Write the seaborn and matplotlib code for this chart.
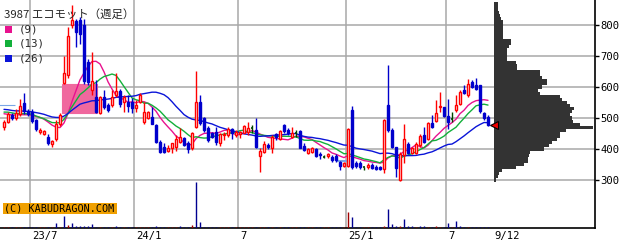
import numpy as np
import pandas as pd
import matplotlib
matplotlib.use("Agg")
import matplotlib.pyplot as plt
import seaborn as sns
from matplotlib.patches import Rectangle

# ---------------- data ----------------
title = "3987 エコモット（週足）"
first_week = "2023-05-19"
tick_dates = ["2023-07-07", "2024-01-05", "2024-07-05", "2025-01-10", "2025-07-04"]
tick_labels = ["23/7", "24/1", "7", "25/1", "7"]
price_ticks = [300, 400, 500, 600, 700, 800]

opens = [470,488,510,500,512,548,522,520,492,455,
         450,440,415,432,480,612,640,800,812,815,
         800,680,590,568,516,568,542,542,574,587,
         552,552,552,532,552,487,500,503,477,423,
         407,394,403,407,423,435,419,403,472,552,
         500,468,452,456,420,445,445,463,445,448,
         453,455,467,461,378,391,413,402,448,431,
         477,461,440,451,458,411,388,391,399,385,
         375,376,375,377,357,346,346,526,354,356,
         341,341,350,343,342,334,542,461,405,300,
         381,416,388,388,413,445,431,483,491,534,
         534,506,496,526,545,590,574,617,606,606,
         517,502]
highs = [494,520,515,530,560,580,528,530,498,468,
         462,448,430,495,516,700,795,865,818,825,
         820,690,712,623,572,590,548,590,645,595,
         574,574,563,558,580,552,522,537,481,428,
         418,414,419,445,468,440,425,454,652,574,
         502,474,456,472,453,455,472,467,461,459,
         477,488,477,499,402,425,420,445,452,461,
         480,467,470,461,461,418,402,405,402,391,
         380,386,381,384,362,357,467,539,362,362,
         341,354,354,348,345,496,671,467,408,390,
         480,424,408,424,448,472,488,510,558,585,
         537,560,520,574,590,606,625,623,628,606,
         520,510]
lows = [462,483,495,495,505,512,505,485,458,450,
        445,413,408,425,475,610,630,790,730,740,
        610,605,575,516,512,530,520,536,568,535,
        520,520,516,520,548,482,497,480,418,388,
        388,391,388,395,418,410,386,398,468,478,
        456,424,434,413,410,430,440,431,440,434,
        451,445,451,402,327,386,399,388,429,429,
        453,445,437,440,402,392,385,388,373,367,
        370,370,359,359,333,343,343,335,338,337,
        332,337,334,332,332,322,456,402,311,298,
        354,384,384,384,408,418,429,467,488,520,
        504,463,488,520,542,577,569,596,590,515,
        494,474]
closes = [488,512,500,515,540,522,512,490,465,462,
          458,420,425,480,510,645,765,815,778,770,
          620,615,620,519,568,535,526,568,587,545,
          568,539,532,542,574,519,519,481,423,390,
          390,403,419,432,439,413,400,452,552,485,
          460,430,440,424,448,450,463,453,456,455,
          474,469,467,405,392,416,405,440,440,458,
          458,452,453,451,404,397,399,402,377,382,
          375,384,365,365,346,354,463,343,345,341,
          341,348,340,335,335,494,461,408,338,384,
          431,388,402,416,442,424,483,472,515,539,
          506,488,496,542,585,582,610,601,592,524,
          499,478]
# closes of the weeks before the first visible week (for the moving averages)
warmup_closes = [545,560,550,540,548,535,520,530,525,540,538,526,520,
                 515,530,545,535,528,520,515,530,525,512,505,500]
# weekly volume (thousand shares)
volume = [20,20,20,20,20,20,20,20,20,20,
          20,20,20,100,20,240,60,100,40,40,
          40,40,80,20,20,20,20,20,40,20,
          20,20,20,20,20,20,20,20,40,20,
          20,20,20,20,40,20,20,60,920,120,
          20,20,20,20,20,20,20,20,20,20,
          20,20,20,20,20,20,20,20,20,20,
          20,20,20,20,20,20,20,20,20,20,
          20,20,20,20,20,20,320,220,20,20,
          20,20,20,20,20,40,380,80,40,40,
          180,40,40,20,40,40,20,20,40,20,
          20,100,20,140,40,20,20,20,20,20,
          20,20]
# weeks whose (non-trivial) volume bar is drawn in red
volume_red_weeks = [16, 47, 86, 95, 99, 108]
ma_periods = [9, 13, 26]
# price gaps (windows): first week, filling week, low, high, direction
gaps = [(15, 23, 516, 610, "up"),
        (-1.5, 2.5, 541, 543, "down"),
        (63.6, 64.4, 402, 404, "down"),
        (83.6, 85.6, 362, 364, "down")]
# volume-by-price profile: bin lower edge (yen), relative volume
profile_price = list(range(295, 866, 10))
profile_vol = [2,4,5,8,22,30,34,34,35,36,
               50,55,58,63,66,66,72,99,86,79,
               78,76,78,80,76,73,68,66,46,44,
               48,53,53,48,46,46,23,23,22,13,
               13,13,13,15,17,17,9,9,9,9,
               9,9,7,6,5,4,4,4]

# ---------------- styling ----------------
sns.set_style("white")
plt.rcParams["font.family"] = ["DejaVu Sans Mono"]
UP, DOWN, DOJI = "#ff0000", "#0000cc", "#004400"
VUP, VDOWN = "#a00000", "#000090"
MA_COLORS = {9: "#e8128e", 13: "#12b03a", 26: "#0a14d8"}
GRID = "#a8a8a8"

W, H = 640, 241
fig = plt.figure(figsize=(W / 100, H / 100), dpi=100)
fig.patch.set_facecolor("white")
ax = fig.add_axes([0, 13 / H, 595 / W, 228 / H])
ax.set_xlim(-1, 147.75)
ax.set_ylim(145.2, 880.6)

n = len(closes)
idx = np.arange(n)
o, h, l, c = map(np.array, (opens, highs, lows, closes))
dates = pd.date_range(first_week, periods=n, freq="W-FRI")

# grid
for p in price_ticks:
    ax.axhline(p, color=GRID, lw=1.1, zorder=0)
tick_idx = [dates.get_loc(pd.Timestamp(d)) for d in tick_dates]
for t in tick_idx:
    ax.axvline(t - 0.4, color=GRID, lw=1.1, zorder=0)

# gaps
for g0, g1, glo, ghi, kind in gaps:
    col = "#f0689e" if kind == "up" else "#7aa6e6"
    ax.add_patch(Rectangle((g0 - 0.4, glo), (g1 - g0) + 0.75, ghi - glo,
                           facecolor=col, edgecolor=col, lw=0.8, zorder=1))

# moving averages
allc = pd.Series(warmup_closes + closes, dtype=float)
for p in ma_periods:
    ma = allc.rolling(p).mean().to_numpy()[-n:]
    sns.lineplot(x=idx, y=ma, ax=ax, color=MA_COLORS[p], lw=1.0,
                 legend=False, zorder=2)

# candles
up = c > o
down = c < o
doji = c == o
wick_col = np.where(up, UP, np.where(down, DOWN, DOJI))
ax.vlines(idx, l, h, colors=wick_col, lw=1.0, zorder=3)
bw = 0.7
ax.bar(idx[up], (c - o)[up], bottom=o[up], width=bw, facecolor="white",
       edgecolor=UP, lw=1.0, zorder=4)
ax.bar(idx[down], (o - c)[down], bottom=c[down], width=bw, facecolor=DOWN,
       edgecolor=DOWN, lw=1.0, zorder=4)
ax.hlines(c[doji], idx[doji] - bw / 2, idx[doji] + bw / 2, colors=DOJI,
          lw=1.2, zorder=4)

# volume profile
prof_left = n + 0.5
ax.barh(profile_price, np.array(profile_vol) * 0.25, height=10,
        left=prof_left, align="edge", color="#333333", lw=0, zorder=2)
ax.plot([prof_left], [closes[-1]], marker="<", ms=6, mfc="#ee0000",
        mec="black", mew=0.8, zorder=6)

# volume bars (twin axis)
ax2 = ax.twinx()
ax2.set_ylim(0, 228 * 20)
vol = np.array(volume)
vcol = np.where(c >= o, VUP, VDOWN).astype(object)
vcol[vol > 20] = VDOWN
vcol[volume_red_weeks] = VUP
ax2.vlines(idx, 0, vol, colors=list(vcol), lw=1.0)
ax2.set_yticks([])
for s in ax2.spines.values():
    s.set_visible(False)
ax2.set_xlim(ax.get_xlim())

# axes / ticks (after twinx, which moves ticks to the left)
for s in ("left", "top"):
    ax.spines[s].set_visible(False)
for s in ("right", "bottom"):
    ax.spines[s].set_color("black")
    ax.spines[s].set_linewidth(1.2)
ax.yaxis.tick_right()
ax.yaxis.set_label_position("right")
ax.set_yticks(price_ticks)
ax.set_yticklabels([str(p) for p in price_ticks])
ax.tick_params(axis="y", which="both", left=False, labelleft=False,
               right=True, labelright=True, length=3, width=1, pad=1,
               labelsize=7.6, colors="black")
ax.set_xticks(tick_idx)
ax.set_xticklabels(tick_labels)
last = dates[-1]
ax.set_xticks([prof_left], [f"{last.month}/{last.day}"], minor=True)
ax.tick_params(axis="x", which="both", length=0, pad=2, labelsize=7.6,
               colors="black")
for lbl in ax.get_xticklabels(which="both"):
    lbl.set_ha("left")
ax.set_xlabel("")
ax.set_ylabel("")

# title / legend / credit (pixel placed)
fx = lambda x: x / W
fy = lambda y: 1 - y / H
fig.text(fx(4), fy(14), title, fontsize=8.2, va="center", ha="left",
         family=["Noto Sans CJK JP", "DejaVu Sans"])
for p, yc in zip(ma_periods, [29.5, 43, 58.5]):
    fig.patches.append(Rectangle((fx(5), fy(yc + 3.5)), 7 / W, 7 / H,
                                 transform=fig.transFigure,
                                 facecolor=MA_COLORS[p], edgecolor="none"))
    fig.text(fx(19), fy(yc), f"({p})", fontsize=7.8, va="center", ha="left")
fig.patches.append(Rectangle((fx(3), fy(214)), 114 / W, 11 / H,
                             transform=fig.transFigure,
                             facecolor="#f0a000", edgecolor="none"))
fig.text(fx(4.5), fy(208.5), "(C) KABUDRAGON.COM", fontsize=7.3,
         va="center", ha="left", color="black")

fig.savefig("out.png", dpi=100, facecolor="white")
